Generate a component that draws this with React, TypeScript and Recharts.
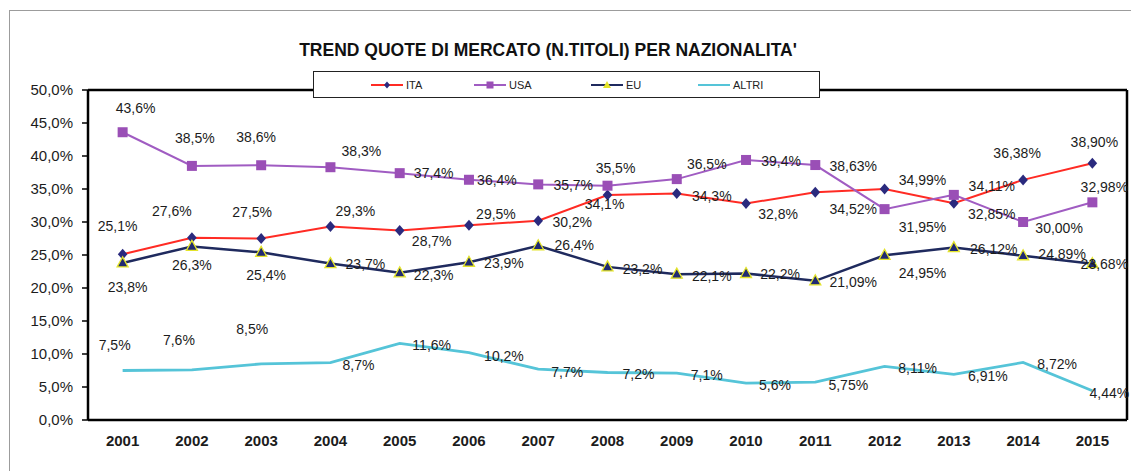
import React from 'react';
import { LineChart, Line, XAxis, YAxis, Legend, LabelList, ReferenceLine } from 'recharts';

// ---- data ----
const years = [2001, 2002, 2003, 2004, 2005, 2006, 2007, 2008, 2009, 2010, 2011, 2012, 2013, 2014, 2015];
const ita = [25.1, 27.6, 27.5, 29.3, 28.7, 29.5, 30.2, 34.1, 34.3, 32.8, 34.52, 34.99, 32.85, 36.38, 38.9];
const usa = [43.6, 38.5, 38.6, 38.3, 37.4, 36.4, 35.7, 35.5, 36.5, 39.4, 38.63, 31.95, 34.11, 30.0, 32.98];
const eu = [23.8, 26.3, 25.4, 23.7, 22.3, 23.9, 26.4, 23.2, 22.1, 22.2, 21.09, 24.95, 26.12, 24.89, 23.68];
const altri = [7.5, 7.6, 8.5, 8.7, 11.6, 10.2, 7.7, 7.2, 7.1, 5.6, 5.75, 8.11, 6.91, 8.72, 4.44];
const yTicks = [0, 5, 10, 15, 20, 25, 30, 35, 40, 45, 50];
const seriesNames = ['ITA', 'USA', 'EU', 'ALTRI'];
const title = "TREND QUOTE DI MERCATO (N.TITOLI) PER NAZIONALITA'";

// ---- label offsets (label centre relative to its point, px) ----
const itaLabelOffsets = [[-5, -28], [-20, -27], [-9, -27], [25, -16], [32, 10], [27, -11], [34, 1], [-3, 9], [35, 2], [32, 10], [38, 17], [38, -9], [38, 11], [-6, -27], [2, -21]];
const usaLabelOffsets = [[13, -24], [3, -28], [-5, -28], [31, -16], [34, 0], [28, 0], [35, 1], [8, -18], [30, -15], [35, 1], [38, 1], [38, 18], [38, -9], [36, 6], [12, -15]];
const euLabelOffsets = [[5, 24], [0, 19], [5, 23], [35, 0], [34, 2], [35, 1], [36, -1], [35, 2], [35, 2], [34, 1], [38, 1], [38, 18], [40, 1], [39, -2], [12, 0]];
const altriLabelOffsets = [[-8, -26], [-13, -30], [-9, -35], [28, 2], [32, 2], [35, 3], [29, 3], [31, 2], [30, 2], [29, 2], [33, 3], [33, 2], [34, 2], [34, 2], [17, 2]];

const data = years.map((year, i) => ({ year, ita: ita[i], usa: usa[i], eu: eu[i], altri: altri[i] }));
const boundaries = years.slice(1).map((y) => y - 0.5);
const xDomain = [years[0] - 0.5, years[years.length - 1] + 0.5];

const FONT = '"Liberation Sans", Arial, Helvetica, sans-serif';

const fmtValue = (v: number, i: number) => v.toFixed(years[i] >= 2011 ? 2 : 1).replace('.', ',') + '%';
const fmtTick = (v: number) => v.toFixed(1).replace('.', ',') + '%';

const makeLabel = (offsets: number[][], values: number[]) => (props: any) => {
  const { x, y, index } = props;
  if (x == null || y == null || index == null) return null;
  const [dx, dy] = offsets[index];
  return (
    <text
      x={Number(x) + dx}
      y={Number(y) + dy}
      textAnchor="middle"
      dominantBaseline="central"
      fontSize={14}
      fontFamily={FONT}
      fill="#1c1c1c"
    >
      {fmtValue(values[index], index)}
    </text>
  );
};

const COLORS = {
  ita: '#ff2b24',
  itaMarker: '#2a2a7e',
  usa: '#a05cc2',
  usaMarker: '#9a4fb6',
  eu: '#1f2a5e',
  euMarker: '#202a72',
  euMarkerStroke: '#e4e42a',
  altri: '#55c4d8',
};

const DiamondDot = (p: any) => {
  const { cx, cy, index } = p;
  if (cx == null || cy == null) return <g key={`dia-${index}`} />;
  return (
    <path
      key={`dia-${index}`}
      d={`M${cx},${cy - 5.5}L${cx + 4.8},${cy}L${cx},${cy + 5.5}L${cx - 4.8},${cy}Z`}
      fill={COLORS.itaMarker}
    />
  );
};

const SquareDot = (p: any) => {
  const { cx, cy, index } = p;
  if (cx == null || cy == null) return <g key={`sq-${index}`} />;
  return <rect key={`sq-${index}`} x={cx - 5} y={cy - 5} width={10} height={10} fill={COLORS.usaMarker} />;
};

const TriangleDot = (p: any) => {
  const { cx, cy, index } = p;
  if (cx == null || cy == null) return <g key={`tri-${index}`} />;
  return (
    <path
      key={`tri-${index}`}
      d={`M${cx},${cy - 6}L${cx + 5.5},${cy + 4}L${cx - 5.5},${cy + 4}Z`}
      fill={COLORS.euMarker}
      stroke={COLORS.euMarkerStroke}
      strokeWidth={1.3}
    />
  );
};

const legendLefts = [57, 160, 277, 384];

const LegendIcon = ({ i }: { i: number }) => {
  const lineColors = [COLORS.ita, COLORS.usa, COLORS.eu, COLORS.altri];
  return (
    <svg width={32} height={10} style={{ display: 'block' }}>
      <line x1={0} y1={5} x2={32} y2={5} stroke={lineColors[i]} strokeWidth={2} />
      {i === 0 && <path d="M16,1.5L19,5L16,8.5L13,5Z" fill={COLORS.itaMarker} />}
      {i === 1 && <rect x={12.5} y={1.5} width={7} height={7} fill={COLORS.usaMarker} />}
      {i === 2 && <path d="M16,1L20,8L12,8Z" fill={COLORS.euMarkerStroke} />}
    </svg>
  );
};

const renderLegend = () => (
  <div
    style={{
      width: 507,
      height: 27,
      boxSizing: 'border-box',
      border: '1.5px solid #222',
      background: '#fff',
      position: 'relative',
    }}
  >
    {seriesNames.map((name, i) => (
      <div
        key={name}
        style={{
          position: 'absolute',
          left: legendLefts[i],
          top: 0,
          height: '100%',
          display: 'flex',
          alignItems: 'center',
        }}
      >
        <LegendIcon i={i} />
        <span style={{ marginLeft: 3, fontSize: 11, fontFamily: FONT, color: '#222' }}>{name}</span>
      </div>
    ))}
  </div>
);

export default function App() {
  return (
    <div
      style={{
        position: 'absolute',
        left: 0,
        top: 0,
        width: 1131,
        height: 471,
        background: '#ffffff',
        overflow: 'hidden',
      }}
    >
      <div
        style={{
          position: 'absolute',
          left: 9,
          top: 10,
          width: 1200,
          height: 500,
          borderLeft: '1.5px solid #9c9c9c',
          borderTop: '1.5px solid #9c9c9c',
        }}
      />
      <LineChart
        width={1131}
        height={471}
        data={data}
        margin={{ top: 90, right: 4, left: 10, bottom: 0 }}
      >
        <XAxis
          xAxisId={0}
          dataKey="year"
          type="number"
          domain={xDomain}
          ticks={boundaries}
          tick={false}
          tickSize={5}
          tickLine={{ stroke: '#000', strokeWidth: 1.5 }}
          axisLine={{ stroke: '#000', strokeWidth: 2.5 }}
          height={1}
          allowDataOverflow
        />
        <XAxis
          xAxisId="lbl"
          dataKey="year"
          type="number"
          domain={xDomain}
          ticks={years}
          interval={0}
          tickLine={false}
          tickSize={0}
          tickMargin={14}
          axisLine={false}
          tick={{ fill: '#1c1c1c', fontSize: 15, fontWeight: 700, fontFamily: FONT }}
          height={50}
          allowDataOverflow
        />
        <YAxis
          type="number"
          domain={[0, 50]}
          ticks={yTicks}
          interval={0}
          width={78}
          tickSize={6}
          tickMargin={9}
          tickFormatter={fmtTick}
          axisLine={{ stroke: '#000', strokeWidth: 2.5 }}
          tickLine={{ stroke: '#000', strokeWidth: 1.5 }}
          tick={{ fill: '#1c1c1c', fontSize: 15, fontFamily: FONT }}
        />
        <ReferenceLine y={50} stroke="#000" strokeWidth={2.5} />
        <ReferenceLine x={xDomain[1]} stroke="#000" strokeWidth={2.5} />
        <Line
          dataKey="ita"
          stroke={COLORS.ita}
          strokeWidth={2}
          dot={DiamondDot}
          activeDot={false}
          isAnimationActive={false}
        >
          <LabelList dataKey="ita" content={makeLabel(itaLabelOffsets, ita)} />
        </Line>
        <Line
          dataKey="usa"
          stroke={COLORS.usa}
          strokeWidth={2}
          dot={SquareDot}
          activeDot={false}
          isAnimationActive={false}
        >
          <LabelList dataKey="usa" content={makeLabel(usaLabelOffsets, usa)} />
        </Line>
        <Line
          dataKey="eu"
          stroke={COLORS.eu}
          strokeWidth={2.5}
          dot={TriangleDot}
          activeDot={false}
          isAnimationActive={false}
        >
          <LabelList dataKey="eu" content={makeLabel(euLabelOffsets, eu)} />
        </Line>
        <Line
          dataKey="altri"
          stroke={COLORS.altri}
          strokeWidth={2.8}
          dot={false}
          activeDot={false}
          isAnimationActive={false}
        >
          <LabelList dataKey="altri" content={makeLabel(altriLabelOffsets, altri)} />
        </Line>
        <Legend
          layout="horizontal"
          verticalAlign="middle"
          align="center"
          content={renderLegend}
          wrapperStyle={{ left: 313, top: 71, width: 507, height: 27, margin: 0, padding: 0 }}
        />
      </LineChart>
      <div
        style={{
          position: 'absolute',
          left: 0,
          top: 40,
          width: 1096,
          textAlign: 'center',
          fontFamily: FONT,
          fontWeight: 700,
          fontSize: 17.5,
          color: '#111',
          whiteSpace: 'nowrap',
          lineHeight: 'normal',
        }}
      >
        {title}
      </div>
    </div>
  );
}
